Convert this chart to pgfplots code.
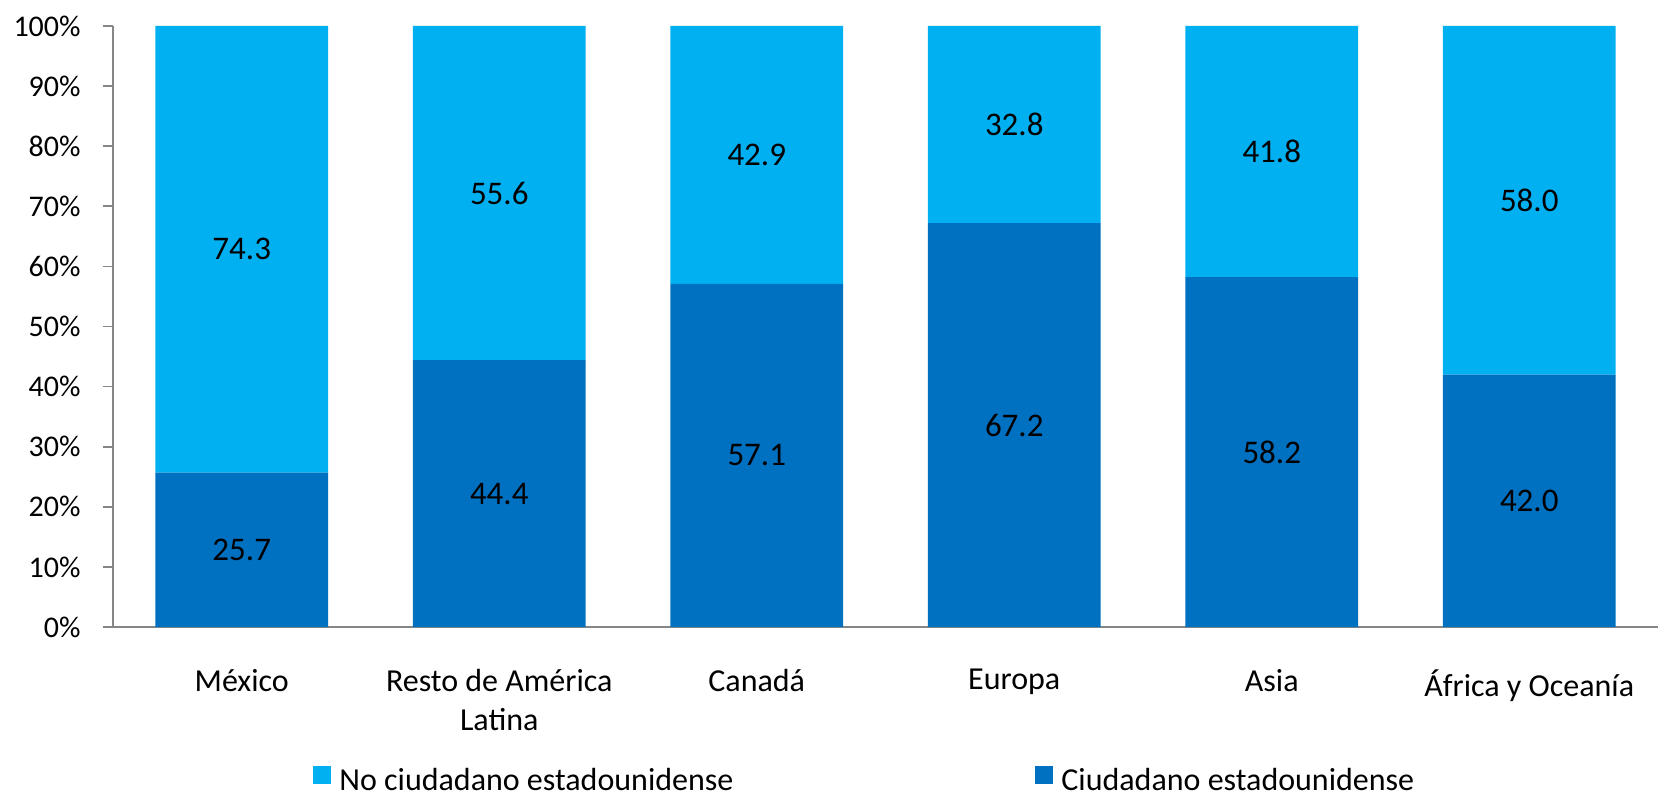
\documentclass[border=0pt]{standalone}
\usepackage{fontspec}
\setmainfont{Carlito}
\usepackage{pgfplots}
\pgfplotsset{compat=1.18}
\definecolor{lightb}{HTML}{00B0F0}
\definecolor{darkb}{HTML}{0070C0}
\definecolor{axgray}{HTML}{868686}
\begin{document}
\fontsize{15}{19.5}\selectfont
\begin{tikzpicture}
\begin{axis}[
  name=ax,
  scale only axis,
  width=772.5pt, height=300.5pt,
  xmin=-0.5, xmax=5.5,
  ymin=0, ymax=100,
  axis x line=bottom, axis y line=left,
  axis line style={draw=axgray, line width=0.8pt, -},
  every tick/.style={draw=axgray, line width=0.8pt},
  tick align=outside,
  ybar stacked,
  bar width=0.67,
  xtick={0,1,2,3,4,5},
  xticklabels={México,{Resto de América\\Latina},Canadá,Europa,Asia,África y Oceanía},
  xticklabel style={align=center, font=\fontsize{16}{19.5}\selectfont, yshift=-11pt},
  x tick style={draw=none},
  extra x ticks={-0.5,0.5,1.5,2.5,3.5,4.5,5.5},
  extra x tick labels={},
  extra x tick style={major tick length=5pt, tick style={draw=axgray, line width=0.8pt}},
  ytick={0,10,...,100},
  yticklabel={\pgfmathprintnumber{\tick}\%},
  yticklabel style={font=\fontsize{15}{18}\selectfont, xshift=-6pt},
  major tick length=5pt,
  /pgf/number format/assume math mode=true,
  legend style={draw=none, at={(0,0)}, anchor=west, xshift=100pt, yshift=-77.5pt,
    legend columns=2, inner sep=0pt, font=\fontsize{16}{18}\selectfont,
    /tikz/every even column/.append style={column sep=149pt},
    /tikz/every odd column/.append style={column sep=2pt}},
  legend image code/.code={\fill[#1] (0pt,-1pt) rectangle (9pt,8pt);},
]
\addlegendimage{fill=lightb, draw=none}
\addlegendentry{No ciudadano estadounidense}
\addlegendimage{fill=darkb, draw=none}
\addlegendentry{Ciudadano estadounidense}
\addplot[fill=darkb, draw=none, forget plot] coordinates {(0,25.7) (1,44.4) (2,57.1) (3,67.2) (4,58.2) (5,42.0)};
\addplot[fill=lightb, draw=none, forget plot] coordinates {(0,74.3) (1,55.6) (2,42.9) (3,32.8) (4,41.8) (5,58.0)};
\end{axis}
\begin{axis}[
  scale only axis, width=772.5pt, height=300.5pt,
  xmin=-0.5, xmax=5.5, ymin=0, ymax=100,
  hide axis,
]
\addplot[only marks, mark=none, nodes near coords, point meta=explicit symbolic,
  every node near coord/.append style={anchor=center, font=\fontsize{16.5}{18}\selectfont, text=black}]
  coordinates {(0,12.85)[25.7] (1,22.2)[44.4] (2,28.55)[57.1] (3,33.6)[67.2] (4,29.1)[58.2] (5,21.0)[42.0]
               (0,62.85)[74.3] (1,72.2)[55.6] (2,78.55)[42.9] (3,83.6)[32.8] (4,79.1)[41.8] (5,71.0)[58.0]};
\end{axis}
\pgfresetboundingbox
\path ([xshift=-56.5pt,yshift=-85pt]ax.south west) rectangle ([yshift=13pt]ax.north east);
\end{tikzpicture}
\end{document}
